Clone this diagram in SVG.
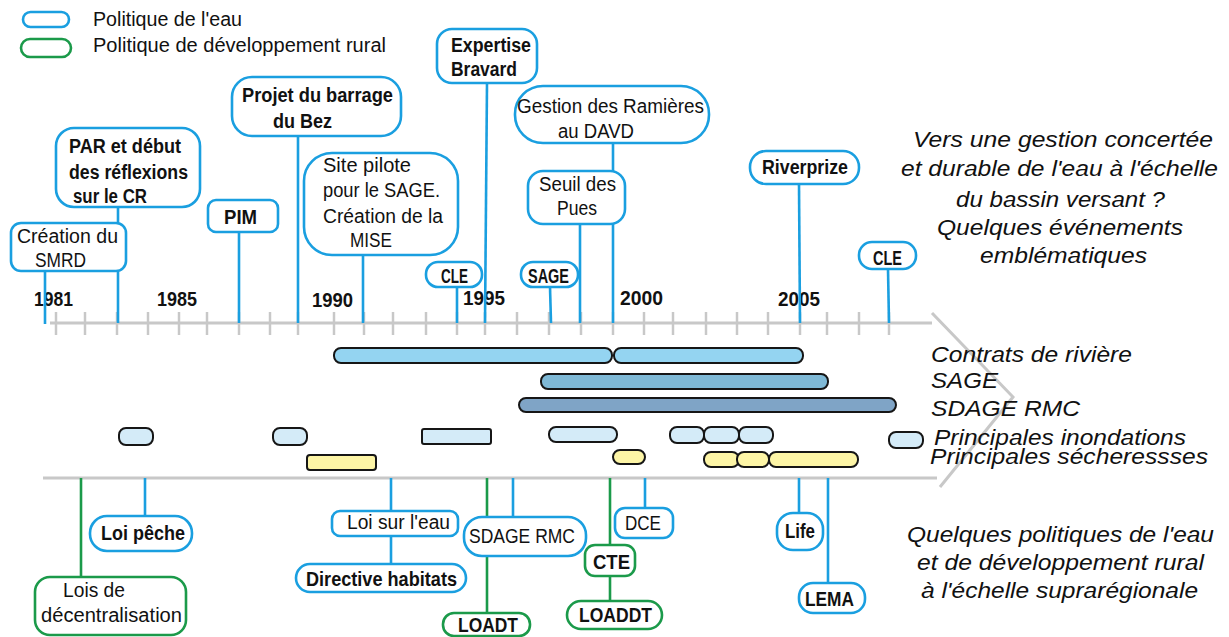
<svg xmlns="http://www.w3.org/2000/svg" width="1229" height="637" viewBox="0 0 1229 637">
<style>
text{font-family:"Liberation Sans",Arial,sans-serif;fill:#111}
.r{font-size:20px}
.b{font-size:20px;font-weight:bold}
.s{font-size:21px}
.sb{font-size:21px;font-weight:bold}
.y{font-size:19.5px;font-weight:bold}
.lg{font-size:20px}
.it{font-size:21.5px;font-style:italic}
.bn{fill:#fff;stroke:#1a9fe0;stroke-width:2.6}
.gn{fill:#fff;stroke:#1b9a4a;stroke-width:2.6}
.bl{stroke:#1a9fe0;stroke-width:2.6;fill:none}
.gl{stroke:#1b9a4a;stroke-width:2.6;fill:none}
.ax{stroke:#c8c8c8;stroke-width:3;fill:none}
.tk{stroke:#c8c8c8;stroke-width:2.5}
.bar{stroke:#161616;stroke-width:2}
.c1{fill:#94d4f1}.c2{fill:#7fb9d6}.c3{fill:#7fa4c6}.c4{fill:#d4ebf8}.c5{fill:#fdf5a6}
</style>

<g id="legend">
<rect class="bn" x="23" y="12" width="46" height="15" rx="7.5"/>
<rect class="gn" x="21" y="39" width="50" height="18" rx="9"/>
<text class="lg" x="93" y="26" textLength="149" lengthAdjust="spacingAndGlyphs">Politique de l'eau</text>
<text class="lg" x="93" y="52" textLength="293" lengthAdjust="spacingAndGlyphs">Politique de développement rural</text>
</g>

<g id="axes">
<line class="ax" x1="50" y1="323" x2="932" y2="323"/>
<line class="ax" x1="43" y1="478" x2="937" y2="478"/>
<polyline class="ax" points="932,313 1013,397 940,487"/>
<g class="tk">
<line x1="56" y1="312" x2="56" y2="335"/><line x1="85" y1="312" x2="85" y2="335"/><line x1="117" y1="312" x2="117" y2="335"/><line x1="148" y1="312" x2="148" y2="335"/><line x1="179" y1="312" x2="179" y2="335"/><line x1="207" y1="312" x2="207" y2="335"/><line x1="239" y1="312" x2="239" y2="335"/><line x1="270" y1="312" x2="270" y2="335"/><line x1="298" y1="312" x2="298" y2="335"/><line x1="334" y1="312" x2="334" y2="335"/><line x1="364" y1="312" x2="364" y2="335"/><line x1="393" y1="312" x2="393" y2="335"/><line x1="426" y1="312" x2="426" y2="335"/><line x1="457" y1="312" x2="457" y2="335"/><line x1="485" y1="312" x2="485" y2="335"/><line x1="517" y1="312" x2="517" y2="335"/><line x1="549" y1="312" x2="549" y2="335"/><line x1="581" y1="312" x2="581" y2="335"/><line x1="613" y1="312" x2="613" y2="335"/><line x1="644" y1="312" x2="644" y2="335"/><line x1="673" y1="312" x2="673" y2="335"/><line x1="706" y1="312" x2="706" y2="335"/><line x1="737" y1="312" x2="737" y2="335"/><line x1="768" y1="312" x2="768" y2="335"/><line x1="800" y1="312" x2="800" y2="335"/><line x1="827" y1="312" x2="827" y2="335"/><line x1="859" y1="312" x2="859" y2="335"/><line x1="889" y1="312" x2="889" y2="335"/>
</g>
<text class="y" x="34" y="306" textLength="39" lengthAdjust="spacingAndGlyphs">1981</text>
<text class="y" x="157" y="306" textLength="40" lengthAdjust="spacingAndGlyphs">1985</text>
<text class="y" x="312" y="307" textLength="41" lengthAdjust="spacingAndGlyphs">1990</text>
<text class="y" x="463" y="305" textLength="42" lengthAdjust="spacingAndGlyphs">1995</text>
<text class="y" x="620" y="305" textLength="43" lengthAdjust="spacingAndGlyphs">2000</text>
<text class="y" x="778" y="306" textLength="42" lengthAdjust="spacingAndGlyphs">2005</text>
</g>

<g id="connectors">
<g class="bl">
<line x1="45" y1="271" x2="45" y2="324"/>
<line x1="118" y1="207" x2="118" y2="323"/>
<line x1="239" y1="232" x2="239" y2="323"/>
<line x1="298" y1="136" x2="298" y2="323"/>
<line x1="363" y1="255" x2="363" y2="323"/>
<line x1="457" y1="287" x2="457" y2="323"/>
<line x1="487" y1="83" x2="485" y2="323"/>
<line x1="550" y1="287" x2="551" y2="323"/>
<line x1="580" y1="224" x2="580" y2="323"/>
<line x1="613" y1="143" x2="613" y2="323"/>
<line x1="799" y1="184" x2="800" y2="323"/>
<line x1="888" y1="269" x2="889" y2="323"/>
<line x1="145" y1="478" x2="145" y2="516"/>
<line x1="391" y1="478" x2="391" y2="564"/>
<line x1="513" y1="478" x2="513" y2="517"/>
<line x1="645" y1="478" x2="645" y2="508"/>
<line x1="799" y1="478" x2="799" y2="513"/>
<line x1="828" y1="478" x2="828" y2="583"/>
</g>
<g class="gl">
<line x1="81" y1="478" x2="81" y2="577"/>
<line x1="487" y1="478" x2="487" y2="613"/>
<line x1="610" y1="478" x2="610" y2="602"/>
</g>
</g>

<g id="bars">
<rect class="bar c1" x="334" y="348" width="278" height="15" rx="7"/>
<rect class="bar c1" x="614" y="348" width="189" height="15" rx="7"/>
<rect class="bar c2" x="541" y="374" width="287" height="15" rx="7"/>
<rect class="bar c3" x="519" y="398" width="377" height="14" rx="7"/>
<rect class="bar c4" x="119" y="428" width="34" height="17" rx="7"/>
<rect class="bar c4" x="273" y="428" width="34" height="17" rx="7"/>
<rect class="bar c4" x="422" y="429" width="69" height="15" rx="2"/>
<rect class="bar c4" x="549" y="427" width="68" height="15" rx="7"/>
<rect class="bar c4" x="670" y="427" width="34" height="16" rx="7"/>
<rect class="bar c4" x="704" y="427" width="35" height="16" rx="7"/>
<rect class="bar c4" x="739" y="427" width="34" height="16" rx="7"/>
<rect class="bar c4" x="889" y="432" width="34" height="16" rx="7"/>
<rect class="bar c5" x="307" y="455" width="69" height="15" rx="3"/>
<rect class="bar c5" x="613" y="450" width="32" height="14" rx="7"/>
<rect class="bar c5" x="704" y="452" width="35" height="15" rx="7"/>
<rect class="bar c5" x="737" y="452" width="32" height="15" rx="7"/>
<rect class="bar c5" x="769" y="452" width="89" height="15" rx="7"/>
</g>

<g id="n-creation"><rect class="bn" x="11" y="223" width="115" height="48" rx="10"/>
<text class="r" x="17" y="243" textLength="101" lengthAdjust="spacingAndGlyphs">Création du</text>
<text class="r" x="35" y="267" textLength="51" lengthAdjust="spacingAndGlyphs">SMRD</text></g>
<g id="n-par"><rect class="bn" x="56" y="128" width="144" height="79" rx="18"/>
<text class="b" x="69" y="153" textLength="112" lengthAdjust="spacingAndGlyphs">PAR et début</text>
<text class="b" x="69" y="179" textLength="119" lengthAdjust="spacingAndGlyphs">des réflexions</text>
<text class="b" x="73" y="203" textLength="74" lengthAdjust="spacingAndGlyphs">sur le CR</text></g>
<g id="n-pim"><rect class="bn" x="208" y="200" width="70" height="32" rx="8"/>
<text class="sb" x="224" y="224" textLength="33" lengthAdjust="spacingAndGlyphs">PIM</text></g>
<g id="n-barrage"><rect class="bn" x="232" y="77" width="169" height="59" rx="20"/>
<text class="b" x="242" y="102" textLength="151" lengthAdjust="spacingAndGlyphs">Projet du barrage</text>
<text class="b" x="273" y="128" textLength="59" lengthAdjust="spacingAndGlyphs">du Bez</text></g>
<g id="n-site"><rect class="bn" x="304" y="153" width="154" height="102" rx="28"/>
<text class="r" x="323" y="172" textLength="88" lengthAdjust="spacingAndGlyphs">Site pilote</text>
<text class="r" x="323" y="197" textLength="117" lengthAdjust="spacingAndGlyphs">pour le SAGE.</text>
<text class="r" x="323" y="223" textLength="120" lengthAdjust="spacingAndGlyphs">Création de la</text>
<text class="r" x="350" y="247" textLength="42" lengthAdjust="spacingAndGlyphs">MISE</text></g>
<g id="n-cle1"><rect class="bn" x="426" y="262" width="56" height="25" rx="12"/>
<text class="sb" x="441" y="283" textLength="27" lengthAdjust="spacingAndGlyphs">CLE</text></g>
<g id="n-expertise"><rect class="bn" x="437" y="29" width="100" height="54" rx="15"/>
<text class="b" x="451" y="52" textLength="80" lengthAdjust="spacingAndGlyphs">Expertise</text>
<text class="b" x="451" y="76" textLength="66" lengthAdjust="spacingAndGlyphs">Bravard</text></g>
<g id="n-gestion"><rect class="bn" x="515" y="86" width="194" height="57" rx="28"/>
<text class="r" x="517" y="113" textLength="187" lengthAdjust="spacingAndGlyphs">Gestion des Ramières</text>
<text class="r" x="558" y="138" textLength="76" lengthAdjust="spacingAndGlyphs">au DAVD</text></g>
<g id="n-seuil"><rect class="bn" x="528" y="171" width="97" height="53" rx="15"/>
<text class="r" x="539" y="191" textLength="77" lengthAdjust="spacingAndGlyphs">Seuil des</text>
<text class="r" x="557" y="215" textLength="40" lengthAdjust="spacingAndGlyphs">Pues</text></g>
<g id="n-sage"><rect class="bn" x="521" y="262" width="57" height="25" rx="12"/>
<text class="sb" x="528" y="283" textLength="41" lengthAdjust="spacingAndGlyphs">SAGE</text></g>
<g id="n-riverprize"><rect class="bn" x="750" y="151" width="109" height="33" rx="16"/>
<text class="sb" x="762" y="174" textLength="86" lengthAdjust="spacingAndGlyphs">Riverprize</text></g>
<g id="n-cle2"><rect class="bn" x="859" y="242" width="57" height="27" rx="13"/>
<text class="sb" x="873" y="265" textLength="29" lengthAdjust="spacingAndGlyphs">CLE</text></g>

<g id="n-decentralisation"><rect class="gn" x="35" y="577" width="151" height="58" rx="15"/>
<text class="r" x="63" y="597" textLength="62" lengthAdjust="spacingAndGlyphs">Lois de</text>
<text class="r" x="41" y="622" textLength="141" lengthAdjust="spacingAndGlyphs">décentralisation</text></g>
<g id="n-loipeche"><rect class="bn" x="90" y="516" width="102" height="35" rx="17"/>
<text class="sb" x="101" y="540" textLength="84" lengthAdjust="spacingAndGlyphs">Loi pêche</text></g>
<g id="n-loieau"><rect class="bn" x="332" y="511" width="126" height="25" rx="8"/>
<text class="r" x="347" y="529" textLength="103" lengthAdjust="spacingAndGlyphs">Loi sur l'eau</text></g>
<g id="n-habitats"><rect class="bn" x="296" y="564" width="170" height="28" rx="14"/>
<text class="sb" x="306" y="586" textLength="151" lengthAdjust="spacingAndGlyphs">Directive habitats</text></g>
<g id="n-sdage"><rect class="bn" x="464" y="517" width="122" height="39" rx="18"/>
<text class="s" x="469" y="543" textLength="106" lengthAdjust="spacingAndGlyphs">SDAGE RMC</text></g>
<g id="n-loadt"><rect class="gn" x="443" y="613" width="87" height="23" rx="11"/>
<text class="sb" x="458" y="632" textLength="60" lengthAdjust="spacingAndGlyphs">LOADT</text></g>
<g id="n-cte"><rect class="gn" x="585" y="545" width="50" height="31" rx="10"/>
<text class="sb" x="593" y="569" textLength="37" lengthAdjust="spacingAndGlyphs">CTE</text></g>
<g id="n-loaddt"><rect class="gn" x="567" y="601" width="95" height="28" rx="14"/>
<text class="sb" x="579" y="622" textLength="73" lengthAdjust="spacingAndGlyphs">LOADDT</text></g>
<g id="n-dce"><rect class="bn" x="615" y="508" width="58" height="30" rx="10"/>
<text class="s" x="625" y="530" textLength="36" lengthAdjust="spacingAndGlyphs">DCE</text></g>
<g id="n-life"><rect class="bn" x="777" y="513" width="46" height="37" rx="16"/>
<text class="sb" x="785" y="538" textLength="30" lengthAdjust="spacingAndGlyphs">Life</text></g>
<g id="n-lema"><rect class="bn" x="799" y="583" width="66" height="30" rx="14"/>
<text class="sb" x="805" y="606" textLength="49" lengthAdjust="spacingAndGlyphs">LEMA</text></g>

<g id="bar-labels">
<text class="it" x="931" y="362" textLength="201" lengthAdjust="spacingAndGlyphs">Contrats de rivière</text>
<text class="it" x="931" y="388" textLength="67" lengthAdjust="spacingAndGlyphs">SAGE</text>
<text class="it" x="931" y="416" textLength="149" lengthAdjust="spacingAndGlyphs">SDAGE RMC</text>
<text class="it" x="934" y="445" textLength="252" lengthAdjust="spacingAndGlyphs">Principales inondations</text>
<text class="it" x="930" y="464" textLength="278" lengthAdjust="spacingAndGlyphs">Principales sécheressses</text>
</g>

<g id="title-top">
<text class="it" x="913" y="147" textLength="300" lengthAdjust="spacingAndGlyphs">Vers une gestion concertée</text>
<text class="it" x="901" y="176" textLength="317" lengthAdjust="spacingAndGlyphs">et durable de l'eau à l'échelle</text>
<text class="it" x="956" y="207" textLength="209" lengthAdjust="spacingAndGlyphs">du bassin versant ?</text>
<text class="it" x="937" y="235" textLength="246" lengthAdjust="spacingAndGlyphs">Quelques événements</text>
<text class="it" x="980" y="263" textLength="167" lengthAdjust="spacingAndGlyphs">emblématiques</text>
</g>

<g id="title-bottom">
<text class="it" x="907" y="542" textLength="307" lengthAdjust="spacingAndGlyphs">Quelques politiques de l'eau</text>
<text class="it" x="917" y="570" textLength="287" lengthAdjust="spacingAndGlyphs">et de développement rural</text>
<text class="it" x="921" y="598" textLength="277" lengthAdjust="spacingAndGlyphs">à l'échelle suprarégionale</text>
</g>
</svg>
